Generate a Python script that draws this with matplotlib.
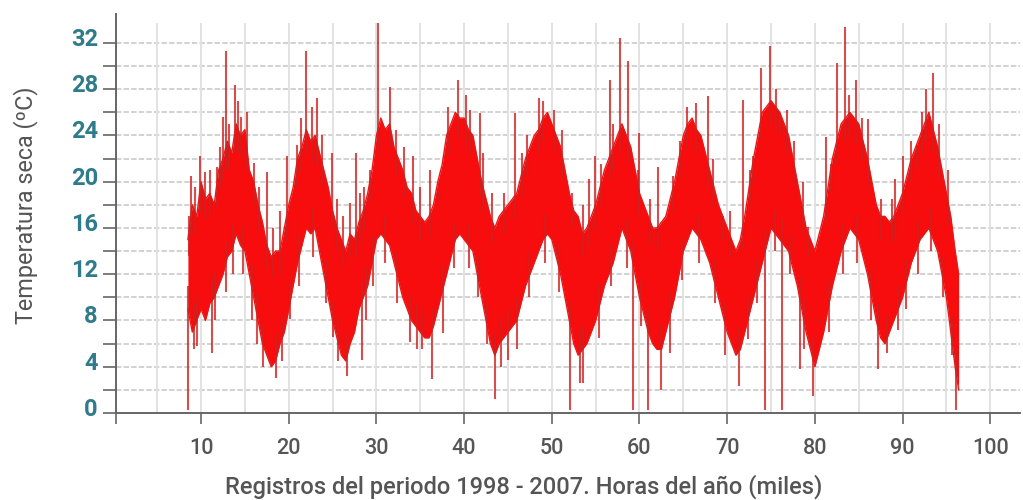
import matplotlib
matplotlib.use('Agg')
import matplotlib.pyplot as plt
import matplotlib.transforms as mtransforms
import numpy as np

# horas (miles) y envolvente del grueso de la serie (ºC), leidas cada 500 h
horas = [8.5, 9, 9.5, 10, 10.5, 11, 11.5, 12, 12.5, 13, 13.5, 14, 14.5, 15, 15.5, 16, 16.5, 17, 17.5, 18,
         18.5, 19, 19.5, 20, 20.5, 21, 21.5, 22, 22.5, 23, 23.5, 24, 24.5, 25, 25.5, 26, 26.5, 27, 27.5, 28,
         28.5, 29, 29.5, 30, 30.5, 31, 31.5, 32, 32.5, 33, 33.5, 34, 34.5, 35, 35.5, 36, 36.5, 37, 37.5, 38,
         38.5, 39, 39.5, 40, 40.5, 41, 41.5, 42, 42.5, 43, 43.5, 44, 44.5, 45, 45.5, 46, 46.5, 47, 47.5, 48,
         48.5, 49, 49.5, 50, 50.5, 51, 51.5, 52, 52.5, 53, 53.5, 54, 54.5, 55, 55.5, 56, 56.5, 57, 57.5, 58,
         58.5, 59, 59.5, 60, 60.5, 61, 61.5, 62, 62.5, 63, 63.5, 64, 64.5, 65, 65.5, 66, 66.5, 67, 67.5, 68,
         68.5, 69, 69.5, 70, 70.5, 71, 71.5, 72, 72.5, 73, 73.5, 74, 74.5, 75, 75.5, 76, 76.5, 77, 77.5, 78,
         78.5, 79, 79.5, 80, 80.5, 81, 81.5, 82, 82.5, 83, 83.5, 84, 84.5, 85, 85.5, 86, 86.5, 87, 87.5, 88,
         88.5, 89, 89.5, 90, 90.5, 91, 91.5, 92, 92.5, 93, 93.5, 94, 94.5, 95, 95.5, 96, 96.4]
t_min = [9, 7, 8, 9, 8, 9.5, 10, 11, 12, 13.5, 14, 15.5, 14.5, 14, 12, 10, 8, 6, 5, 4,
         4.5, 6, 7, 9, 11, 13, 14.5, 16, 15.5, 16, 14, 12, 10, 8, 6.5, 5, 4.5, 6, 7, 9,
         10, 11, 13, 15, 15.5, 15, 14.5, 13, 11.5, 10, 9, 8, 7.5, 7, 6.5, 6.5, 7.5, 9, 10.5, 12,
         13.5, 15, 15.5, 15, 14.5, 14, 12, 10, 8, 6, 5, 6, 6.5, 7, 7.5, 8, 9.5, 11, 12, 13,
         14, 15, 15.5, 15, 13.5, 12, 10, 8, 6, 5, 5.5, 6, 7, 8, 9.5, 11, 12, 13, 14.5, 16,
         15, 14, 12, 10, 8.5, 7, 6, 5.5, 5.5, 7, 8.5, 10, 12, 14, 15, 16, 15.5, 15, 14, 13,
         11.5, 10, 8.5, 7, 6, 5, 5.5, 7, 8.5, 10, 11.5, 13, 14.5, 16, 15.5, 15, 14.5, 14, 12.5, 11,
         9, 7, 5.5, 4, 5.5, 7, 9, 11, 12.5, 14, 15, 16, 15.5, 15, 13.5, 12, 10, 8, 6.5, 6,
         7, 8, 9, 10, 11.5, 13, 14, 15, 15.5, 16, 15, 14, 12, 10, 7, 4, 2]
t_max = [15, 18, 17, 20, 18.5, 19, 18, 21, 22, 23.5, 22.5, 25, 24, 24.5, 21, 20, 18, 16.5, 14.5, 13.5,
         14, 14, 16, 18, 19.5, 22, 23, 24.5, 23.5, 24, 22.5, 21, 19.5, 17.5, 16, 15, 14, 15.5, 15, 16.5,
         17.5, 19, 21, 24, 25.5, 24.5, 25, 23, 22, 21, 19.5, 19, 17.5, 17, 16.5, 17, 18, 20, 21.5, 24,
         25, 26, 25.5, 25.5, 24.5, 24, 22, 20, 18.5, 17, 16, 17, 17.5, 18, 18.5, 19, 20.5, 22, 23, 24,
         24.5, 25.5, 26, 25, 24, 23, 21, 19, 17.5, 17, 15.5, 16, 17, 18, 19.5, 21, 22, 23, 24, 25,
         24, 23, 21, 19, 18, 17, 16, 16, 16.5, 17, 18.5, 20, 22, 24, 25, 25.5, 24.5, 24, 22.5, 21,
         19.5, 18, 17, 16, 15, 14, 15, 17, 19.5, 22, 24, 26, 26.5, 27, 26.5, 26, 25, 24, 22, 20,
         18, 16, 15, 14, 15.5, 17, 19.5, 22, 23.5, 25, 25.5, 26, 25.5, 25, 23.5, 22, 20, 18, 17, 17,
         16.5, 17, 18, 19, 20.5, 22, 23, 24, 25, 26, 24.5, 23, 21, 19, 17, 14, 12]

# picos aislados hacia arriba y hacia abajo
pico_x = [8.6, 8.9, 9.3, 9.9, 10.4, 11.0, 11.8, 12.2, 12.5, 12.8, 13.2, 13.9, 14.2, 14.6, 15.2, 16.0,
          16.6, 17.5, 18.2, 19.0, 19.75, 20.9, 21.4, 22.0, 22.6, 23.2, 23.8, 24.9, 25.5, 26.2, 27.0, 27.7,
          28.1, 28.6, 29.3, 30.2, 31.5, 32.2, 33.1, 34.2, 35.0, 36.1, 37.1, 38.2, 39.3, 40.2, 40.7, 41.8,
          42.2, 43.2, 44.5, 45.8, 46.6, 47.2, 48.5, 49.0, 50.2, 51.2, 52.3, 53.6, 54.2, 54.9, 55.6, 56.6,
          57.0, 57.8, 58.7, 59.8, 60.0, 61.2, 62.1, 63.8, 64.6, 65.4, 66.5, 67.8, 68.4, 69.5, 70.3, 71.8,
          72.6, 73.0, 73.9, 74.9, 75.6, 76.0, 76.8, 77.6, 78.6, 79.2, 81.3, 81.8, 82.5, 83.4, 83.9, 84.7,
          85.4, 86.1, 87.6, 88.8, 89.1, 90.1, 91.0, 91.6, 92.2, 92.7, 93.5, 94.2, 95.2]
pico_t = [17, 20.5, 19.5, 22.2, 20.8, 21, 21.3, 23, 25.6, 31.3, 25, 28.4, 27, 25.6, 26, 21.6,
          19.5, 20.8, 16, 17.5, 22.2, 23.2, 25.5, 31.3, 26.5, 27.2, 24, 22.5, 18.5, 17, 18.2, 22.5,
          19, 19.5, 21, 33.7, 28.2, 24.5, 23, 22.2, 19.5, 21, 19.3, 26.5, 28.8, 27.5, 26.2, 25.9,
          22.5, 19, 19, 25.9, 22.5, 24, 27.2, 27, 26.2, 24.5, 19, 18, 20.2, 22.2, 21.5, 28.8,
          25, 32.4, 30.4, 21, 24.2, 18.5, 21.3, 20.5, 23.5, 26.5, 26.8, 27.4, 22, 17, 17.5, 27.1,
          21, 22.2, 29.8, 31.7, 28, 25.9, 26.2, 23.5, 20, 16.1, 23.9, 21.5, 30.3, 33.4, 27.5, 28.8,
          25.5, 25.4, 18.5, 18.5, 20.2, 22.2, 23.5, 23.1, 26, 28, 29.4, 25, 21]
valle_x = [8.5, 9.2, 9.5, 11.2, 11.6, 12.8, 13.6, 14.8, 15.8, 16.4, 17.1, 18.6, 19.2, 20.1, 21.2, 22.8,
           24.2, 25.1, 25.6, 26.6, 28.3, 28.8, 29.6, 31.0, 32.4, 33.8, 34.6, 35.2, 36.3, 37.6, 38.8, 40.6,
           41.6, 42.6, 43.5, 44.2, 45.0, 46.0, 47.4, 49.2, 50.8, 52.1, 53.2, 53.6, 55.4, 56.8, 58.6, 59.3,
           60.2, 61.0, 62.5, 63.5, 64.8, 66.8, 68.6, 69.8, 71.4, 72.4, 73.4, 74.3, 75.4, 76.2, 77.2, 78.3,
           78.8, 79.8, 80.6, 81.6, 83.2, 84.8, 86.4, 87.2, 88.2, 89.5, 90.4, 91.8, 93.2, 94.6, 95.6, 96.1]
valle_t = [0.3, 5.5, 5.8, 5.2, 8, 10.5, 12, 12, 8, 6, 4, 3.0, 4.5, 8.1, 11, 13.5,
           9.5, 6.6, 4.5, 3.2, 4.6, 8, 11, 13, 9.5, 6.1, 5.5, 5.5, 2.9, 6.9, 12.5, 12.5,
           10, 6, 1.2, 4, 4.6, 5.5, 10, 13, 10.5, 0.3, 2.6, 2.6, 6.5, 11, 12.5, 0.3,
           7.5, 0.3, 2, 5.2, 11.5, 13, 9.5, 5, 2.3, 6.4, 9.5, 0.3, 14, 0.3, 12, 3.8,
           5.5, 1.5, 8.1, 7, 12, 13, 8, 3.8, 5.2, 7.2, 9, 12, 14, 10, 5, 0.3]

xticks = [10, 20, 30, 40, 50, 60, 70, 80, 90, 100]
yticks = [0, 4, 8, 12, 16, 20, 24, 28, 32]

fig = plt.figure(figsize=(10.23, 5.0), dpi=100)
ax = fig.add_axes([0.1134, 0.174, 0.8837, 0.798])
ax.set_xlim(0.3, 103.4)
ax.set_ylim(0, 34.5)

# rejilla
for yy in np.arange(2, 34, 2):
    ax.axhline(yy, color='#cfcfcf', lw=1.3, ls=(0, (3, 1.2)), zorder=0)
ax.vlines(np.arange(5, 105, 5), 0, 33.7, color='#e2e2e2', lw=1.4, zorder=0)

# serie
hx = np.array(horas)
ax.fill_between(hx, t_min, t_max, color='#f70d0d', lw=0, zorder=2)
ax.plot(hx, t_max, color='#e81818', lw=1.0, zorder=2)
ax.plot(hx, t_min, color='#e81818', lw=1.0, zorder=2)
base_up = np.interp(pico_x, hx, t_max)
base_dn = np.interp(valle_x, hx, t_min)
ax.vlines(pico_x, base_up - 2, pico_t, color='#cc2222', lw=1.5, alpha=0.8, zorder=3)
ax.vlines(valle_x, valle_t, base_dn + 2, color='#cc2222', lw=1.5, alpha=0.8, zorder=3)

# ejes
for s in ['top', 'right']:
    ax.spines[s].set_visible(False)
for s in ['left', 'bottom']:
    ax.spines[s].set_color('#666666')
    ax.spines[s].set_linewidth(1.4)

ax.set_yticks(np.arange(0, 34, 2))
ax.set_yticklabels([str(v) if v in yticks else '' for v in np.arange(0, 34, 2)])
ax.set_xticks([0.3] + xticks)
ax.set_xticklabels([''] + [str(v) for v in xticks])
ax.tick_params(axis='y', length=9.5, width=1.2, color='#666666', pad=3.5,
               labelsize=17, labelcolor='#2f7b8c')
ax.tick_params(axis='x', length=8, width=1.2, color='#666666', pad=10,
               labelsize=15.5, labelcolor='#555555')
for lab in ax.get_yticklabels():
    lab.set_fontfamily('Roboto')
    lab.set_fontweight('bold')
    lab.set_transform(lab.get_transform() + mtransforms.ScaledTranslation(0, 6 / 100, fig.dpi_scale_trans))
for lab in ax.get_xticklabels():
    lab.set_fontfamily('Roboto')
    lab.set_fontweight('medium')

fig.text(0.0245, 0.59, 'Temperatura seca (ºC)', rotation=90, ha='center', va='center',
         fontsize=16.8, color='#555555', family='Roboto')
fig.text(0.512, 0.026, 'Registros del periodo 1998 - 2007. Horas del año (miles)', ha='center',
         va='center', fontsize=17, color='#555555', family='Roboto', fontweight='medium')

plt.savefig('out.png', dpi=100)
plt.close()
